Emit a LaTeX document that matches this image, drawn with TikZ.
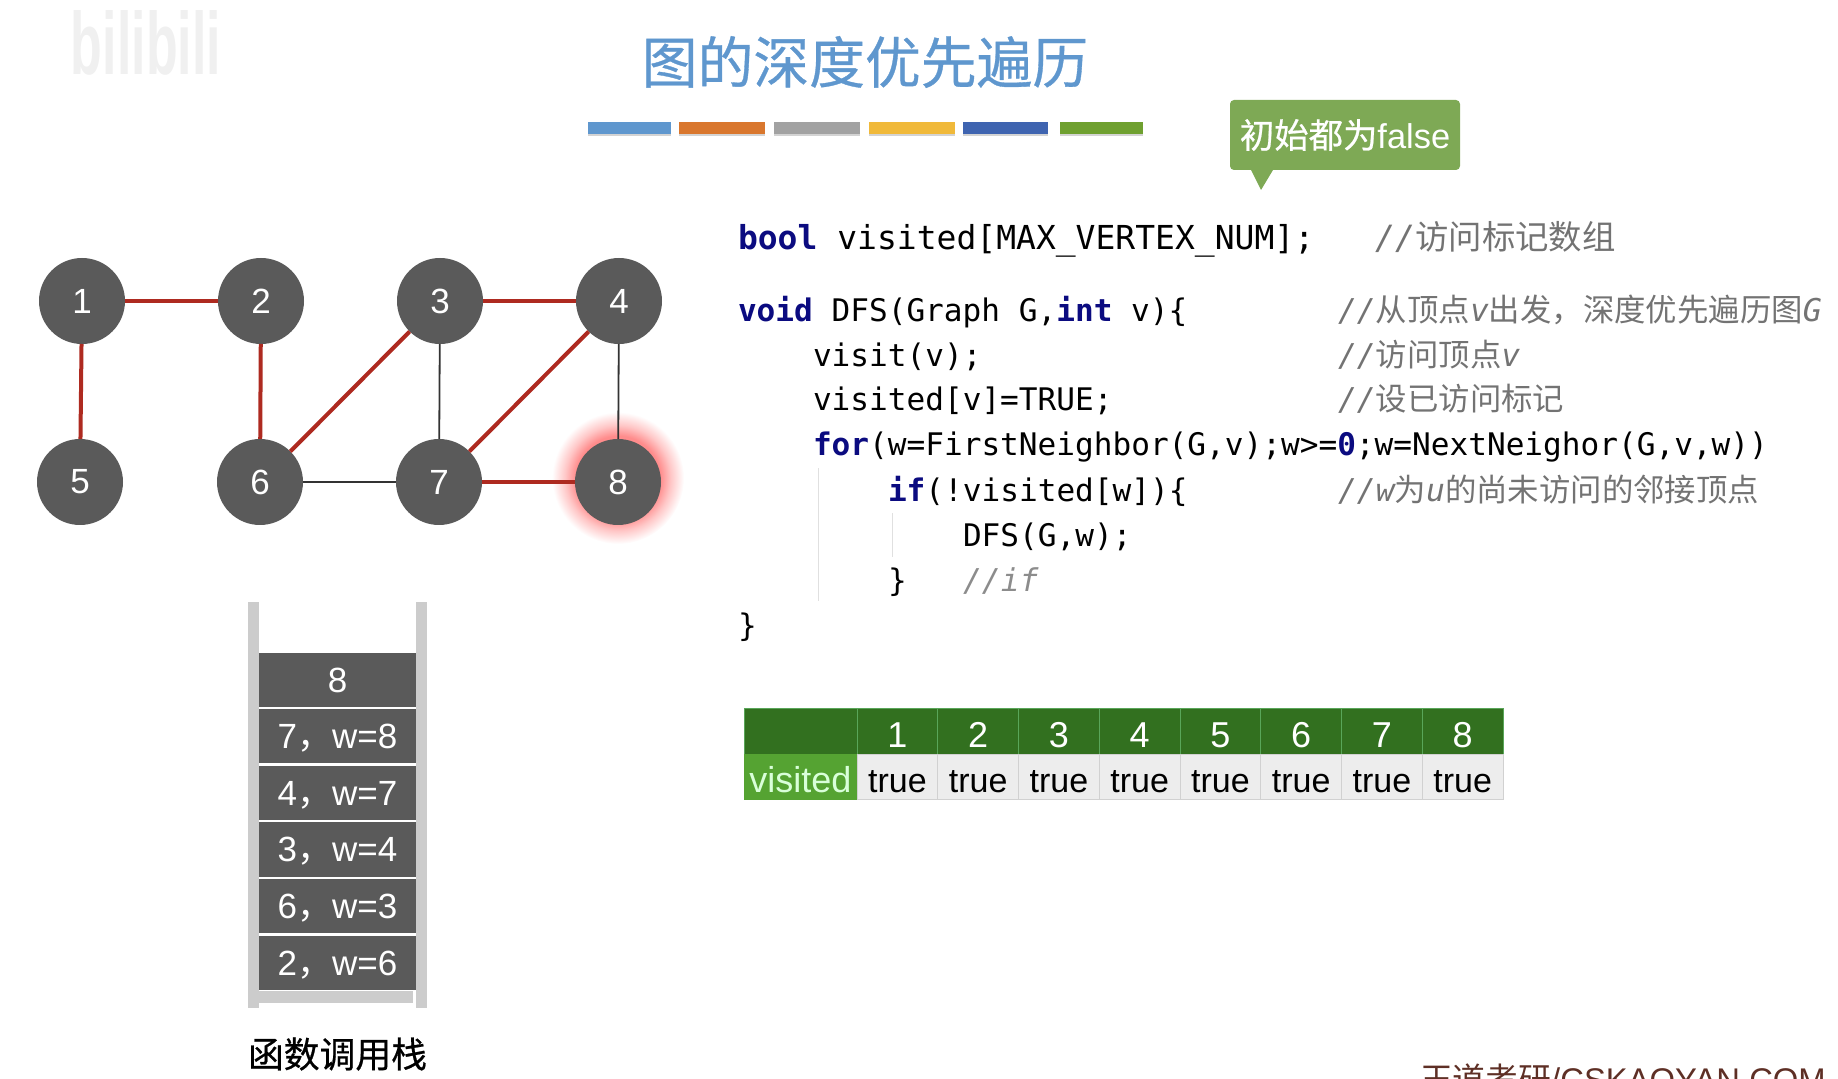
\documentclass[tikz,border=0pt]{standalone}
\usepackage{fontspec}
\setmainfont{Liberation Sans}
\setmonofont{DejaVu Sans Mono}
\newfontfamily\cjk{Noto Sans CJK SC}
\newfontfamily\cjkbold[FakeBold=0.6]{Noto Sans CJK SC}
\usetikzlibrary{positioning,shadows}
\definecolor{titleblue}{HTML}{5F97CE}
\definecolor{kwblue}{HTML}{0B0B80}
\definecolor{notegreen}{HTML}{7EA955}
\definecolor{darkfill}{HTML}{5A5A5A}
\definecolor{edgered}{HTML}{AE2A20}
\definecolor{headgreen}{HTML}{32701F}
\definecolor{rowgreen}{HTML}{55A332}
\definecolor{footbrown}{HTML}{5E2F25}
\definecolor{barorange}{HTML}{D9772E}
\definecolor{bargray}{HTML}{A2A2A2}
\definecolor{baryellow}{HTML}{F0B93A}
\definecolor{barblue}{HTML}{3F64B0}
\definecolor{bargreen}{HTML}{6FA030}
\pgfdeclareradialshading{redglow}{\pgfpoint{0bp}{0bp}}{color(0bp)=(red!45!white); color(16bp)=(red!45!white); color(20bp)=(red!22!white); color(25bp)=(white); color(50bp)=(white)}
\newcommand{\kw}[1]{\textcolor{kwblue}{\textbf{#1}}}
\newcommand{\cmt}[1]{{\itshape //}{\cjk #1}}
\newcommand{\fs}[1]{\fontsize{#1}{#1}\selectfont}

\begin{document}
\begin{tikzpicture}[x=0.5pt, y=-0.5pt, outer sep=0pt,
  vert/.style={circle, fill=darkfill, text=white, font=\fs{17.5}, minimum size=43pt, inner sep=0pt},
  visit/.style={draw=edgered, line width=2pt},
  plain/.style={draw=black!80, line width=0.9pt},
  bar/.style={minimum width=42pt, minimum height=6pt, inner sep=0pt,
    drop shadow={shadow xshift=0pt, shadow yshift=-1.2pt, opacity=.35}},
  frame/.style={fill=darkfill, text=white, font=\fs{17.5}, minimum width=78.5pt, minimum height=27pt, inner sep=0pt,
    text height=12.5pt, text depth=0pt},
  wall/.style={fill=black!20},
  code/.style={anchor=base west, inner sep=0pt, font=\ttfamily\fs{15.55}},
  note/.style={anchor=base west, inner sep=0pt, text=black!55, font=\ttfamily\fs{15.7}},
  head/.style={fill=headgreen, draw=green!30!gray, line width=0.3pt, text=white, font=\fs{18},
    minimum width=40.375pt, minimum height=23pt, inner sep=0pt, text height=16.5pt, text depth=0pt},
  cell/.style={fill=black!7, draw=black!18, line width=0.3pt, font=\fs{17},
    minimum width=40.375pt, minimum height=22.5pt, inner sep=0pt, text height=16.5pt, text depth=0pt}
]
  \useasboundingbox (0,0) rectangle (1838,1079);

  % header
  \node[text=black!6, font=\bfseries] (logo) at (146,43) {\resizebox{75pt}{32pt}{bilibili}};
  \node[text=titleblue, font=\cjkbold\fs{27.9}] (title) at (865,62) {图的深度优先遍历};
  \node[bar, fill=titleblue, minimum width=41.5pt] (bar1) at (629.5,128) {};
  \node[bar, fill=barorange, right=4pt of bar1, minimum width=43pt] (bar2) {};
  \node[bar, fill=bargray, right=4.5pt of bar2, minimum width=43pt] (bar3) {};
  \node[bar, fill=baryellow, right=4.5pt of bar3, minimum width=43pt] (bar4) {};
  \node[bar, fill=barblue, right=4pt of bar4, minimum width=42.5pt] (bar5) {};
  \node[bar, fill=bargreen, right=6pt of bar5, minimum width=41.5pt] (bar6) {};

  % hint above the array
  \node[fill=notegreen, rounded corners=2pt, text=white, font=\fs{17.2}, minimum width=115pt,
    minimum height=35pt, inner sep=0pt] (hint) at (1345,135) {\raisebox{-0.8pt}{{\cjkbold 初始都为}false}};
  \coordinate[below=10pt of hint.south west, xshift=15.5pt] (hinttip);
  \fill[notegreen] ([xshift=10.5pt]hint.south west) -- (hinttip) -- ([xshift=21.5pt]hint.south west) -- cycle;

  % graph
  \node[circle, shade, shading=redglow, minimum size=66pt, inner sep=0pt] (glow) at (618,478) {};
  \node[vert] (v1) at (82,301) {1};
  \node[vert, right=46.5pt of v1] (v2) {2};
  \node[vert, right=46.5pt of v2] (v3) {3};
  \node[vert, right=46.5pt of v3] (v4) {4};
  \node[vert, below=47.5pt of v1, xshift=-1pt] (v5) {5};
  \node[vert, right=47pt of v5] (v6) {6};
  \node[vert, right=46.5pt of v6] (v7) {7};
  \node[vert, right=46.5pt of v7] (v8) {8};
  \draw[visit] (v1) -- (v2);
  \draw[visit] (v1) -- (v5);
  \draw[visit] (v2) -- (v6);
  \draw[visit] (v3) -- (v4);
  \draw[visit] (v6) -- (v3);
  \draw[visit] (v7) -- (v4);
  \draw[visit] (v7) -- (v8);
  \draw[plain] (v3) -- (v7);
  \draw[plain] (v4) -- (v8);
  \draw[plain] (v6) -- (v7);

  % call stack
  \fill[wall] (248,602) rectangle (259,1008);
  \fill[wall] (416,602) rectangle (427,1008);
  \fill[wall] (259,991) rectangle (413,1003);
  \node[frame] (s8) at (337.5,680) {8};
  \node[frame, below=1.25pt of s8] (s7) {7{\cjk ，}w=8};
  \node[frame, below=1.25pt of s7] (s4) {4{\cjk ，}w=7};
  \node[frame, below=1.25pt of s4] (s3) {3{\cjk ，}w=4};
  \node[frame, below=1.25pt of s3] (s6) {6{\cjk ，}w=3};
  \node[frame, below=1.25pt of s6] (s2) {2{\cjk ，}w=6};
  \node[font=\cjkbold\fs{17.9}, inner sep=0pt, below=24pt of s2] (stacklabel) {函数调用栈};

  % code
  \node[code, font=\ttfamily\fs{16.5}] (c0) at (738,250) {\kw{bool} visited[MAX\_VERTEX\_NUM];};
  \node[code] (c1) at (738,322) {\kw{void} DFS(Graph G,\kw{int} v)\{};
  \node[code] (c2) at (813,367) {visit(v);};
  \node[code] (c3) at (813,411) {visited[v]=TRUE;};
  \node[code] (c4) at (813,456) {\kw{for}(w=FirstNeighbor(G,v);w>=\kw{0};w=NextNeighor(G,v,w))};
  \node[code] (c5) at (888,502) {\kw{if}(!visited[w])\{};
  \node[code] (c6) at (963,547) {DFS(G,w);};
  \node[code] (c7) at (888,592) {\}};
  \node[note, text=black!45] (n7) at (963,592) {\itshape //if};
  \node[code] (c8) at (738,637) {\}};
  \node[note, font=\ttfamily\fs{16.7}] (n0) at (1375,250) {\cmt{访问标记数组}};
  \node[note] (n1) at (1338,322) {\cmt{从顶点}\textit{v}{\cjk 出发，深度优先遍历图}\textit{G}};
  \node[note] (n2) at (1338,367) {\cmt{访问顶点}\textit{v}};
  \node[note] (n3) at (1338,411) {\cmt{设已访问标记}};
  \node[note] (n5) at (1338,502) {\itshape //w{\upshape\cjk 为}u{\upshape\cjk 的尚未访问的邻接顶点}};
  \draw[black!12, line width=0.5pt] (818,468) -- (818,601);
  \draw[black!12, line width=0.5pt] (892,513) -- (892,557);

  % visited array
  \node[head, minimum width=56.5pt, anchor=north west] (h0) at (744,708) {};
  \node[head, right=0pt of h0] (h1) {1};
  \node[head, right=0pt of h1] (h2) {2};
  \node[head, right=0pt of h2] (h3) {3};
  \node[head, right=0pt of h3] (h4) {4};
  \node[head, right=0pt of h4] (h5) {5};
  \node[head, right=0pt of h5] (h6) {6};
  \node[head, right=0pt of h6] (h7) {7};
  \node[head, right=0pt of h7] (h8) {8};
  \node[cell, fill=rowgreen, draw=rowgreen, text=green!15!white, font=\fs{18}, minimum width=56.5pt, below=0pt of h0] (r0) {visited};
  \node[cell, below=0pt of h1] (r1) {true};
  \node[cell, below=0pt of h2] (r2) {true};
  \node[cell, below=0pt of h3] (r3) {true};
  \node[cell, below=0pt of h4] (r4) {true};
  \node[cell, below=0pt of h5] (r5) {true};
  \node[cell, below=0pt of h6] (r6) {true};
  \node[cell, below=0pt of h7] (r7) {true};
  \node[cell, below=0pt of h8] (r8) {true};

  \node[anchor=base west, inner sep=0pt, text=footbrown, font=\fs{16.4}] (foot) at (1420,1091) {{\cjk 王道考研}/CSKAOYAN.COM};
\end{tikzpicture}
\end{document}
